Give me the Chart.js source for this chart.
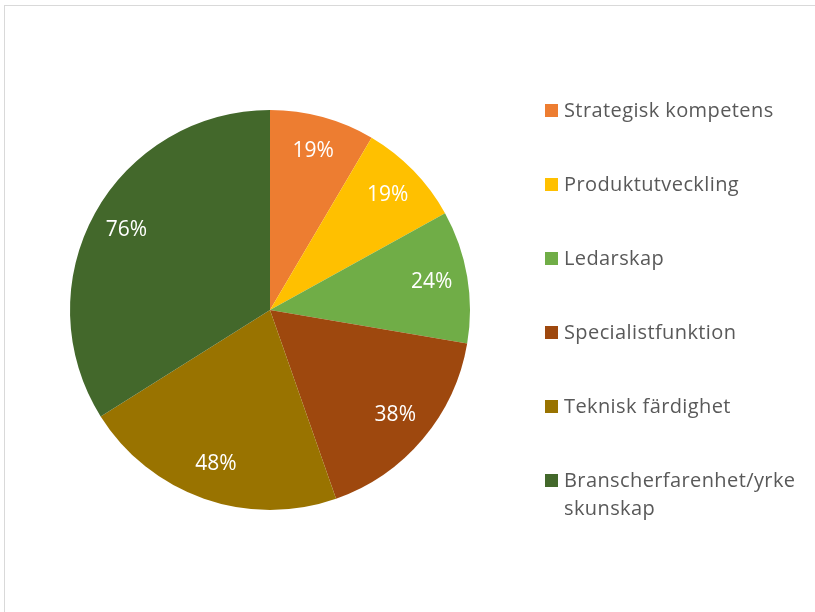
<!DOCTYPE html>
<html>
<head>
<meta charset="utf-8">
<script src="https://cdn.jsdelivr.net/npm/chart.js@4.4.1/dist/chart.umd.min.js"></script>
<style>
    html, body { margin: 0; padding: 0; background: #fff; overflow: hidden; }
    #wrap { position: relative; width: 815px; height: 612px; overflow: hidden; }
    #frame { position: absolute; left: 4px; top: 5px; width: 900px; height: 700px; border: 1px solid #d9d9d9; box-sizing: border-box; }
    #pie { position: absolute; left: 0; top: 0; }
    #legend { position: absolute; left: 545px; top: 0; font-family: "Open Sans", Lato, sans-serif; font-size: 20px; letter-spacing: 0.4px; color: #595959; }
    .item { position: absolute; left: 0; width: 262px; line-height: 28px; white-space: nowrap; }
    .item .box { position: absolute; left: 0; top: 8px; width: 13px; height: 13px; }
    .item .txt { position: absolute; left: 19px; width: 237px; white-space: normal; word-break: break-all; }
</style>
</head>
<body>
<div id="wrap">
    <div id="frame"></div>
    <canvas id="pie" width="815" height="612"></canvas>
    <div id="legend"></div>
</div>
<script>
// Chart data
const categories = ['Strategisk kompetens', 'Produktutveckling', 'Ledarskap', 'Specialistfunktion', 'Teknisk färdighet', 'Branscherfarenhet/yrkeskunskap'];
const percentValues = [19, 19, 24, 38, 48, 76];
const sliceColors = ['#ED7D31', '#FFC000', '#70AD47', '#9E480E', '#997300', '#43682B'];

// Function to draw the percent labels inside each slice
const sliceLabels = {
    id: 'sliceLabels',
    afterDatasetsDraw(chart) {
        const ctx = chart.ctx;
        const meta = chart.getDatasetMeta(0);
        ctx.save();
        ctx.fillStyle = '#ffffff';
        ctx.font = '21px "Open Sans", Lato, sans-serif';
        ctx.textAlign = 'center';
        ctx.textBaseline = 'middle';
        meta.data.forEach((arc, i) => {
            const p = arc.getProps(['x', 'y', 'startAngle', 'endAngle', 'outerRadius'], true);
            const mid = (p.startAngle + p.endAngle) / 2;
            const r = p.outerRadius * 0.82;
            ctx.fillText(percentValues[i] + '%', p.x + Math.cos(mid) * r, p.y + Math.sin(mid) * r - 1);
        });
        ctx.restore();
    }
};

const ctx = document.getElementById('pie').getContext('2d');
new Chart(ctx, {
    type: 'pie',
    data: {
        labels: categories,
        datasets: [{
            data: percentValues,
            backgroundColor: sliceColors,
            borderWidth: 0,
        }],
    },
    options: {
        responsive: false,
        animation: false,
        layout: {
            padding: { left: 70, right: 345, top: 110, bottom: 102 },
        },
        plugins: {
            legend: { display: false },
            tooltip: { enabled: false },
        },
    },
    plugins: [sliceLabels],
});

// Build the legend on the right
const legendEl = document.getElementById('legend');
categories.forEach((name, i) => {
    const item = document.createElement('div');
    item.className = 'item';
    item.style.top = (96 + i * 74) + 'px';
    const box = document.createElement('span');
    box.className = 'box';
    box.style.background = sliceColors[i];
    const txt = document.createElement('span');
    txt.className = 'txt';
    txt.textContent = name;
    item.appendChild(box);
    item.appendChild(txt);
    legendEl.appendChild(item);
});
</script>
</body>
</html>
